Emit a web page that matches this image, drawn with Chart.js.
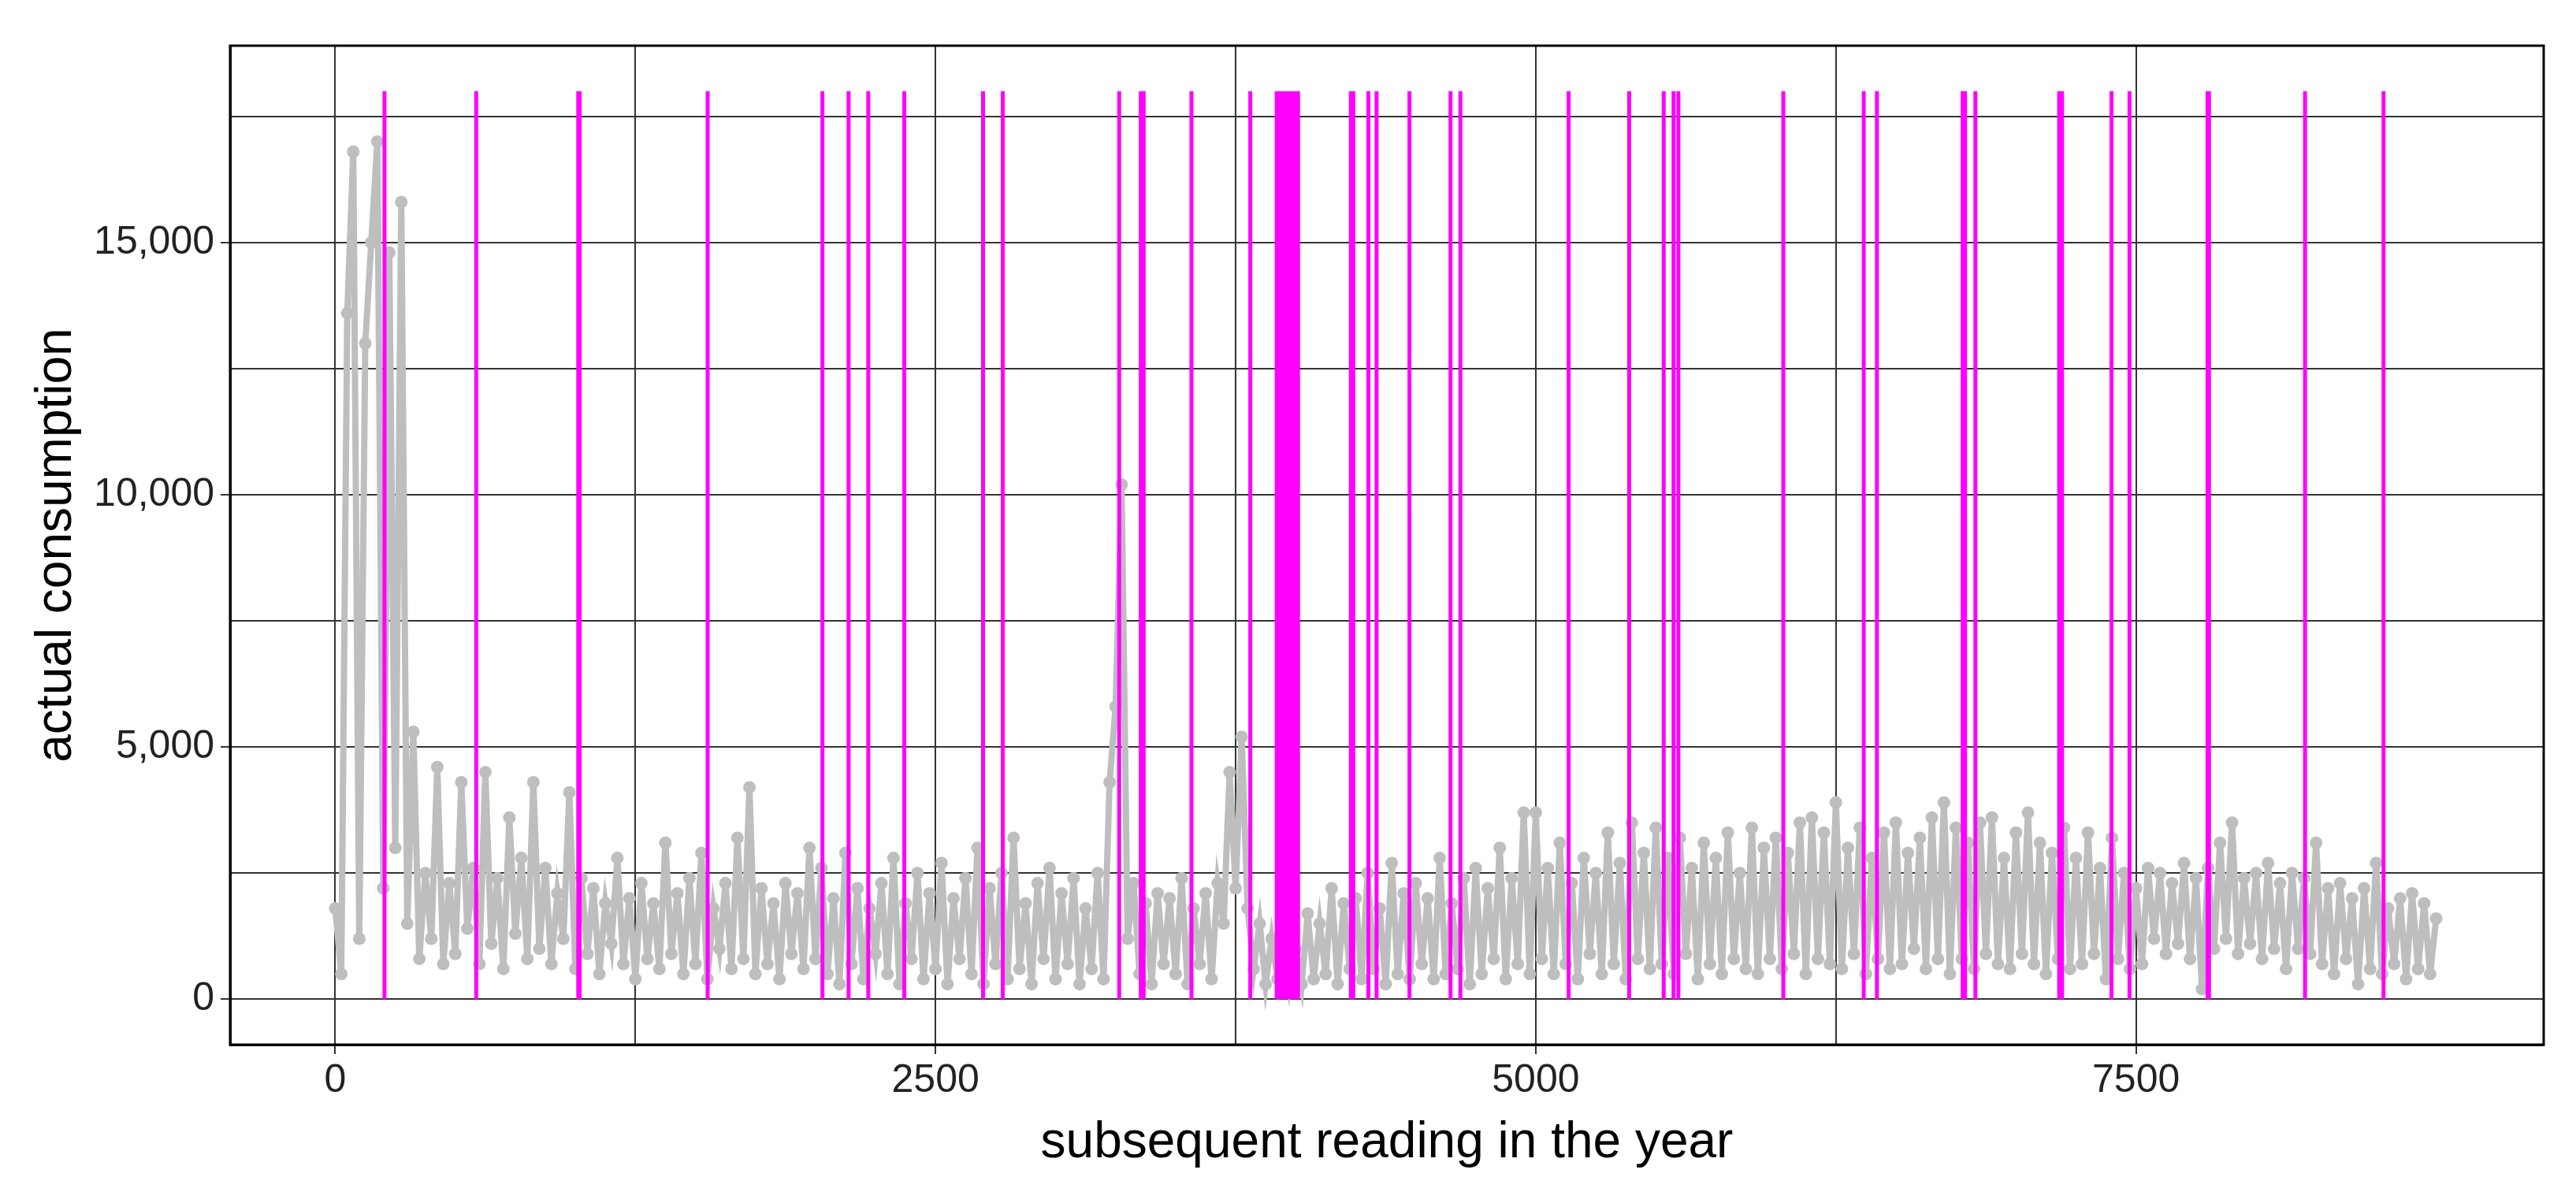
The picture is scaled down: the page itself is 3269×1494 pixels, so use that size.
<!DOCTYPE html>
<html><head><meta charset="utf-8">
<script src="https://cdn.jsdelivr.net/npm/chart.js@4/dist/chart.umd.min.js"></script>
<style>html,body{margin:0;padding:0;background:#fff}canvas{display:block}</style>
</head><body>
<canvas id="c" width="3269" height="1494"></canvas>
<script>
// readings sampled every 25 steps, starting at 0
const readingStep = 25;
const consumption = [
1800,500,13600,16800,1200,13000,15000,17000,2200,14800,
3000,15800,1500,5300,800,2500,1200,4600,700,2300,
900,4300,1400,2600,700,4500,1100,2400,600,3600,
1300,2800,800,4300,1000,2600,700,2100,1200,4100,
600,2400,900,2200,500,1900,1100,2800,700,2000,
400,2300,800,1900,600,3100,900,2100,500,2400,
700,2900,400,1800,1000,2300,600,3200,800,4200,
500,2200,700,1900,400,2300,900,2100,600,3000,
800,2600,500,2000,300,2900,700,2200,400,1800,
900,2300,500,2800,300,1900,800,2500,400,2100,
600,2700,300,2000,800,2400,500,3000,300,2200,
700,2500,400,3200,600,1900,300,2300,800,2600,
400,2100,700,2400,300,1800,600,2500,400,4300,
5800,10200,1200,2300,500,1900,300,2100,700,2000,
500,2400,300,1800,700,2100,400,2300,1500,4500,
2200,5200,1800,600,1500,300,1200,400,1400,300,
1000,300,1700,400,1500,500,2200,300,1900,600,
2000,400,2500,600,1800,300,2700,500,2100,400,
2300,700,2000,400,2800,500,1900,600,2400,300,
2600,500,2200,800,3000,400,2400,700,3700,500,
3700,800,2600,500,3100,700,2300,400,2800,900,
2500,500,3300,700,2700,400,3500,800,2900,600,
3400,700,2800,500,3200,900,2600,400,3100,700,
2800,500,3300,800,2500,600,3400,500,3000,800,
3200,600,2900,900,3500,500,3600,800,3300,700,
3900,600,3000,900,3400,500,2800,800,3300,600,
3500,700,2900,1000,3200,600,3600,800,3900,500,
3400,800,3100,600,3500,900,3600,700,2800,600,
3300,900,3700,700,3100,500,2900,800,3400,600,
2800,700,3300,900,2600,400,3200,800,2500,600,
2200,700,2600,1200,2500,900,2300,1100,2700,800,
2400,200,2600,1000,3100,1200,3500,900,2400,1100,
2500,800,2700,1000,2300,600,2500,1000,2400,900,
3100,700,2200,500,2300,800,2000,300,2200,600,
2700,500,1800,700,2000,400,2100,600,1900,500,
1600
];
// positions of flagged readings (magenta lines)
const anomalies = [205,587,1012,1018,1551,2029,2138,2220,2370,2698,2780,3265,3355,3361,3367,3566,3811,
3921,3926,3931,3936,3941,3946,3951,3956,3961,3966,3971,3976,3981,3986,3991,3996,4001,4006,4010,
4230,4240,4303,4337,4474,4645,4686,5137,5389,5533,5574,5594,6031,6366,6421,6778,6788,6831,7180,7192,7398,7473,7798,7804,8204,8531];
const anomalyTop = 18000;
const xTickLabels = [0,2500,5000,7500];
const yTickLabels = [0,5000,10000,15000];

const series = consumption.map((v,i)=>({x:i*readingStep,y:v}));
const flagged = [];
anomalies.forEach(a=>{flagged.push({x:a,y:0},{x:a,y:anomalyTop},{x:a,y:null});});

const FONT = "'Liberation Sans', Arial, sans-serif";
new Chart(document.getElementById('c'),{
  type:'line',
  data:{datasets:[
    {data:flagged,borderColor:'#FF00FF',borderWidth:5,pointRadius:0,spanGaps:false,order:0},
    {data:series,borderColor:'#BEBEBE',backgroundColor:'#BEBEBE',borderWidth:8,pointRadius:8,pointBorderWidth:0,order:1}
  ]},
  options:{
    responsive:false,animation:false,devicePixelRatio:1,
    layout:{padding:{top:58,right:41,left:30,bottom:0}},
    plugins:{legend:{display:false},tooltip:{enabled:false}},
    scales:{
      x:{type:'linear',min:-438,max:9198,
        afterFit(s){s.height=168;},
        afterBuildTicks(s){const t=[];for(let v=0;v<=7500;v+=1250)t.push({value:v});s.ticks=t;},
        ticks:{callback:v=>xTickLabels.includes(v)?String(v):'',font:{family:FONT,size:50},color:'#222',maxRotation:0,autoSkip:false,padding:4},
        grid:{color:'#333',lineWidth:2,tickLength:12,tickColor:c=>xTickLabels.includes(c.tick&&c.tick.value)?'#333':'rgba(0,0,0,0)'},
        border:{display:true,color:'#000',width:3},
        title:{display:true,text:'subsequent reading in the year',font:{family:FONT,size:64},color:'#000',padding:{top:0}}
      },
      y:{type:'linear',min:-900,max:18900,
        afterFit(s){s.width=262;},
        afterBuildTicks(s){const t=[];for(let v=0;v<=17500;v+=2500)t.push({value:v});s.ticks=t;},
        ticks:{callback:v=>yTickLabels.includes(v)?v.toLocaleString('en-US'):'',font:{family:FONT,size:50},color:'#222',autoSkip:false,padding:8},
        grid:{color:'#333',lineWidth:2,tickLength:12,tickColor:c=>yTickLabels.includes(c.tick&&c.tick.value)?'#333':'rgba(0,0,0,0)'},
        border:{display:true,color:'#000',width:3},
        title:{display:true,text:'actual consumption',font:{family:FONT,size:64},color:'#000',padding:{bottom:10}}
      }
    }
  },
  plugins:[{id:'frame',afterDraw(ch){const a=ch.chartArea,c=ch.ctx;c.save();c.strokeStyle='#000';c.lineWidth=3;c.strokeRect(a.left,a.top,a.right-a.left,a.bottom-a.top);c.restore();}}]
});
</script>
</body></html>
